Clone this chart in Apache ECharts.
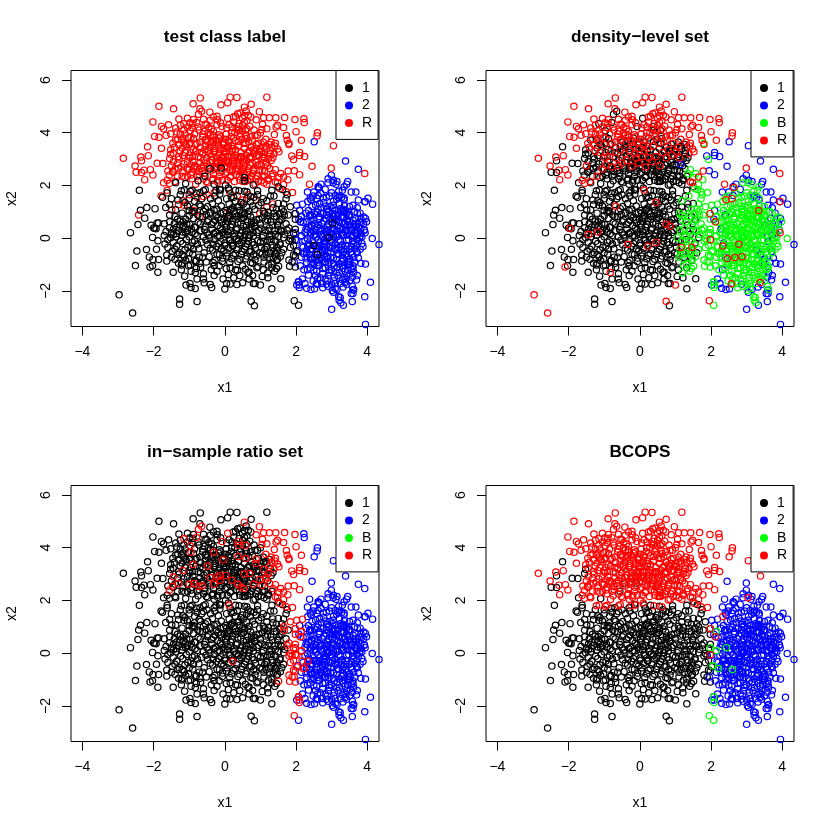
<!DOCTYPE html>
<html><head><meta charset="utf-8"><style>html,body{margin:0;padding:0;background:#fff}#c{width:830px;height:830px}</style>
<script src="https://cdn.jsdelivr.net/npm/echarts@6/dist/echarts.min.js"></script></head>
<body><div id="c"></div><script>
const titles=['test class label','density\u2212level set','in\u2212sample ratio set','BCOPS'];
const legends=[['1','2','R'],['1','2','B','R'],['1','2','B','R'],['1','2','B','R']];
const colors={'1':'#000000','2':'#0000ff','B':'#00ff00','R':'#ff0000'};
const drawOrder=[['2','R','1'],['1','2','B','R'],['1','2','B','R'],['1','2','B','R']];
// flat x1,x2 pairs; group name = label in panels 1..4
const k_1111=[-2.4,1.82,-2.37,1.06,-2.19,1.16,-1.96,1.12,-2.25,.76,-2.44,.52,-2.65,.21,-2.07,.49,-1.9,.58,-1.86,.58,-2,.39,-1.93,.36,-2.03,.03,-1.88,-.1,-1.66,1.16,-2.47,-.49,-2.2,-.43,-1.92,-.42,-2.51,-1.04,-2.12,-.71,-2.02,-.81,-1.86,-.81,-2.03,-1.05,-1.88,-1.29,-1.63,-.64,-1.63,-.87,-1.45,-1.29,-1.13,-1.44,-1.09,-1.78,-.98,-1.72,-.95,-1.87,-.83,-1.91,-.58,-1.69,-.41,-1.76,-.37,-1.87,0,-1.93,.05,-1.72,.15,-1.74,.34,-1.76,.5,-1.69,.8,-1.72,.85,-1.72,1.32,-1.92,1.57,-1.54,1.21,-1.5,-1.27,-2.31,-1.27,-2.51,-.78,-2.4,.83,-2.56,
-1.7,.1,-1.65,.25,-1.6,-.05,-1.55,.4,-1.5,.2,-1.45,-.15,-1.42,.55,-1.38,.05,-1.35,-.3,-1.3,.3,-1.28,-.55,-1.25,.65,-1.2,.12,-1.18,-.2,-1.15,.45,-1.12,-.45,-1.1,.72,-1.08,-.05,-1.05,.3,-1.02,-.78,-1,.05,-.98,.52,-.95,-.3,-.92,.22,-.9,-.6,-.88,.75,-.85,-.1,-.82,.4,-.8,-.85,-.78,.1,-.75,.6,-.73,-.4,-.7,.28,-.68,-1.1,-.65,-.15,-.63,.82,-.6,.05,-.58,-.55,-.55,.45,-.52,-.9,-.5,.2,-.48,-.25,-.46,.7,-.44,-.7,-.42,.02,-.4,.95,-.38,-1.2,-.36,.35,-.34,-.45,-.32,.6,-.3,-.05,-.28,-.85,-.26,.22,-.24,.85,-.22,-.6,-.2,.48,-.18,-.2,-.16,-1.05,-.14,.08,-.12,.7,-.1,-.4,-.08,.32,-.06,-.75,-.04,.98,-.02,.15,0,-.28,.02,.55,.04,-1.15,.06,-.55,.08,.25,.1,.8,.12,-.05,.14,-.92,.16,.42,.18,1.1,.2,-.18,.22,.65,.24,-.65,.26,.05,.28,.92,.3,-1.2,.32,.32,.34,-.42,.36,.58,.38,-.08,.4,1.2,.42,-.8,.44,.2,.46,.75,.48,-.5,.5,-1.05,.52,.45,.54,.02,.56,.95,.58,-.32,.6,.3,.62,-.68,.64,.62,.66,-.12,.68,-1.28,.7,.12,.72,.82,.74,-.5,.76,.38,.78,-.95,.8,.08,.82,-.25,.85,.6,.88,-.68,.9,.22,.93,-1.08,.96,.72,1,-.15,1.02,.38,1.05,-.6,1.08,.1,1.1,-.9,1.14,.65,1.18,-.3,1.22,.28,1.25,-.72,1.3,-.05,1.34,.5,1.38,-.5,1.42,.15,1.45,-.85,1.5,.32,1.55,-.18,1.6,-.55,1.65,.02,
-1.55,.62,-1.4,.82,-1.2,.95,-1,1.05,-.85,1.15,-.72,1.28,-.6,1.02,-.48,1.2,-.35,1.32,-.22,1.1,-.1,1.22,.02,1.05,.12,1.3,.22,1.15,.3,1.4,.42,1.05,.52,1.3,.62,1.18,.72,1.38,.84,1.1,.95,1.25,1.08,1.02,1.22,.98,1.35,1.15,1.45,.82,1.55,.7,-1.75,1.55,-1.62,1.72,-1.5,1.5,-1.32,1.45,-1.12,1.35,-1,1.5,-.85,1.4,-.4,1.5,-.18,1.42,.05,1.5,.25,1.55,.62,1.5,.82,1.55,1.08,1.5,1.28,1.6,1.5,1.32,-.42,2.63,-.1,2.66,-.56,2.35,-1.1,2.07,-.95,-1.25,-.6,-1.35,-.3,-1.42,.1,-1.38,.42,-1.42,.65,-1.3,.9,-1.12,1.08,-1.2,1.32,-1.12,-.82,-.88,-1.1,-.85,-1.32,-.62,-1.5,-.72,-1.7,.55,-1.55,.88,-.05,-1.55,.25,-1.5,.68,-1.55,-1.68,-.22,-1.22,-1.02,-.7,1.72,-.15,1.85,.3,1.82,.92,1.8,1.32,1.82,1.5,1.95,.55,1.78];
const k_core=[-.85,.42,-.77,-.22,-.69,.55,-.62,-.72,-.57,.33,-.53,-.08,-.49,.62,-.45,.12,-.41,-.38,-.37,.52,-.33,-.92,-.31,.18,-.27,.68,-.23,-.32,-.21,.08,-.19,.78,-.15,-.62,-.13,.38,-.11,-.12,-.09,.58,-.07,-.88,-.05,.22,-.03,-.48,-.01,.72,.01,-.18,.03,.42,.05,-.68,.07,.12,.09,.62,.11,-.38,.13,.88,.15,-.08,.17,.28,.19,-.78,.21,.52,.23,-.28,.25,1.02,.27,.18,.29,-.58,.31,.72,.33,-.02,.35,.38,.37,-.88,.39,.85,.41,-.22,.43,.08,.45,.58,.47,-.62,.49,.28,.51,-.12,.53,.78,.55,-.42,.57,.15,.59,-.78,.61,.48,.63,-.22,.65,.92,.67,.02,.69,-.52,.71,.35,.73,-.92,.75,.65,.77,-.15,.79,.22,.81,-.62,.83,.45,.86,-.38,.89,.7,.92,-.1,.95,.3,.98,-.55,.15,1.05,.32,.82,.5,.95,.68,1.02,.08,.75,-.12,.95,-.3,1.05,-.52,.9,-.7,-.95,-.3,-1.05,.15,-1.12,.58,-1.18,.85,-.82,-1.2,-.62,-1.4,-.42,-1.1,.38,-1.35,.42,-1,-.55];
const k_wing=[-1.6,-.35,-1.52,.02,-1.48,-.5,-1.44,.35,-1.4,-.8,-1.36,.18,-1.33,.72,-1.3,-.95,-1.26,.5,-1.24,-.12,-1.2,-.95,-1.17,.62,-1.14,-.7,-1.1,.22,-1.07,.55,-1.04,-.35,-1,.85,-.97,-1.02,-.94,.35,-.91,-.15,-.88,-.42,-.86,1,-.83,.18,-.8,-1.15,-.76,.88,-.72,-.72,1,.55,1.03,-.35,1.06,.78,1.09,-.12,-1.55,1.28,-1.38,1.08,-1.25,1.65,-1.05,1.22,-.92,.98,-.8,1.7,-.65,1.5,-.55,1.12,-.42,.98,-.28,1.6,-.14,1.68,.18,1.55,.35,1.18,.55,.88,.72,1.58,.78,1.22,.92,1.65,1.02,1.35,-.6,-1.55,-.22,-1.25,.35,-1.22,.78,-1.42,1.05,-1.45,-.78,-1.55,-1.02,-1.05,-1.22,-1.2];
const k_1B11=[1.12,.95,1.2,.7,1.25,.38,1.3,.12,1.12,-.42,1.2,-.08,1.28,-.58,1.35,-.35,1.42,-.6,1.4,.28,1.48,.5,1.5,.05,1.55,-.25,1.58,.3,1.6,.72,1.65,-.42,1.38,.95,1.55,.95,1.65,1.3,1.72,1.5,1.6,1.12,1.72,.55,1.78,.88,1.32,-.98,1.4,-1.25,1.2,-1.32,1.45,-1.15,1.1,-.72,1.05,.02,1.48,-.8,1.68,.15,1.62,1.85,1.75,1.65,1.13,.3,1.16,-.62,1.19,.85,1.23,-1.02,1.26,.05,1.29,.62,1.33,-.25,1.36,-.75,1.39,.82,1.43,-.12,1.47,-.48,1.52,.62,1.56,-.7,1.6,.25,1.18,1.42,1.38,1.6,1.45,1.1];
const k_1BR1=[1.65,1,1.67,.87,1.84,1.19,1.98,.93,1.98,.72,1.75,.3,1.8,.39,1.98,.34,1.93,.18,1.84,-.01,1.8,-.1,1.89,-.1,1.93,-.27,1.84,-.35,2.02,-.52,1.93,-.64,1.8,-.83,1.89,-.9,1.98,-.68,1.82,-1.06,1.98,-1.09,1.51,-1.06];
const k_1R11=[-2.97,-2.15,-2.59,-2.84,-2.1,-1.09,-.83,-1.3,1,-1.78,.74,-2.39,-1.97,.38,-1.44,.14,-1.18,.23,-.33,-.23,.46,-.16,.74,.53,.85,.45,.45,1.35,-.68,1.21,1.16,-.35,1.46,-.34];
const k_1RR1=[.22,-.31,.12,1.83];
const k_1RRB=[1.95,-2.37];
const k_1B2B=[2.07,-2.54,2.6,-.62];
const k_1B22=[2.93,.03,3.03,.57,2.5,-.28];
const k_111R=[-1.22,1.8,-1.14,1.83,-.97,1.78,-.92,1.82,-.6,1.8,-.55,1.84,-.25,1.8,-.12,1.83,.1,1.9,.4,1.8,.62,1.76,-1.38,2.1,-.75,2.18,-.3,2.05,.02,2.02,.55,2.3,.55,2.18,.8,2.02];
const r_RR1R=[-2.85,3.03,-2.52,2.74,-2.27,2.58,-2.25,2.22,-2.15,3.13,-2.09,2.6,-2.02,2.4,-2.02,4.41,-1.97,3.86,-1.85,5,-1.85,3.83,-1.78,4.24,-1.72,4.15,-1.78,3.41,-1.44,4.91,-.89,5.1,-.69,5.32,-.7,4.91,-.11,5.06,.08,5.14,.15,5.35,.34,5.34,.74,5.08,1.18,5.35,-2.36,3.08,-1.29,4.52,-1.05,4.55,-1.25,4.28,-1.38,4.18,-1.35,4.03,-1.52,3.96,-1.65,3.9,-.6,4.51,-.41,4.47,-.32,4.6,-.21,4.49,.24,4.6,.36,4.72,.43,4.75,.66,4.66,.73,4.6,-1.46,3.6,-1.42,3.45,-1.3,3.55,-1.12,3.95,-1.05,4.22,-.92,4.2,-.85,3.95,-.58,4.05,-.45,4.2,-.22,4.3,.05,4.18,.2,4.22,.28,4,.5,4.28,.62,4.15,.72,3.85,-1.5,2.75,-1.62,2.2,-1.55,2.08,-1.4,2.15,-1.12,3.25,-.98,3.05,-.62,3.95,-.55,3.72,-.4,3.92,-.15,3.92,.02,3.75,.18,3.85,.45,3.95,.5,4.55,.55,4.65,.6,4.82,.3,4.62,-.5,4.3,-.75,4.22,-1.02,3.82,-1.15,3.65,-.78,3.6,-.2,3.65,.1,3.52,-.32,4.05,-1.58,4.3,-1.25,3.95,-1.15,4.1,-.98,4.38,-.88,4.5,-.72,4.1,-.55,4.32,-.38,4.15,-.12,4.38,.12,4.3,.25,4.4,.4,4.35,.55,4.4,.82,4.1,.92,3.9,.62,4.45,-.42,4.78,-.22,4.62];
const r_inner=[-1.2,2.35,-1.05,2.62,-.95,2.78,-.9,3.1,-.82,3.3,-.78,2.7,-.7,3.65,-.68,3.05,-.62,3.85,-.6,2.75,-.56,3.35,-.52,3.75,-.5,2.85,-.46,4,-.42,3.2,-.38,3.62,-.36,2.95,-.33,3.9,-.28,3.32,-.25,3.72,-.22,2.72,-.18,3.5,-.15,3.2,-.12,3.85,-.1,3.05,-.06,3.6,-.03,2.85,0,3.4,.04,3.95,.07,3.1,.1,3.7,.13,3.3,.16,2.7,.19,4,.22,3.4,.25,3.05,.29,3.7,.32,4.15,.35,2.9,.39,3.5,.42,3.85,.46,3.1,.49,4.1,.53,3.6,.56,2.75,.6,3.9,.64,3.25,.67,3.65,.7,4.25,.74,3.05,.77,3.7,.8,3.35,.85,3.9,.9,3.15,.95,3.6,1,4,1.03,3.3,1.08,3.45,1.12,3.05,-1,3.55,-1.25,3.3,-1.32,3.75,-1.18,3.8,-.9,4.35];
const r_R111=[-2.34,2.49,-2.49,2.5,-2.34,2.94,-2.17,3.47,-1.9,2.84,-1.74,2.83,-1.72,2.1,-1.79,1.6,-1.62,1.82,-1.49,1.07,-2.42,.88,-1.52,3.18,-1.55,3.02,-1.3,1.28,-1.15,1.25,-1,1.65,-.88,1.05,-.78,1.55,-.7,.82,-.5,1.65,-.3,1.72,.15,1.7,.35,1.62,.5,1.45,.65,1.65,.88,1.45,.98,.95,1.18,1.18,1.35,1.3,-1.18,1.42,-.6,1.58,.05,.95];
const r_R11R=[-1.45,3.22,-1.3,3.1,-1.2,3.42,-1.08,3.5,-1.05,2.9,-.95,3.25,-.9,2.92,-.82,3.55,-.75,3.1,-.7,2.85,-.68,3.45,-.62,3.2,-.58,2.45,-.55,3.5,-.5,3.05,-.48,3.65,-.45,2.7,-.42,3.45,-.38,3.1,-.35,3.7,-.32,2.45,-.3,3.25,-.28,3.55,-.25,2.85,-.22,3.05,-.18,3.8,-.15,2.35,-.12,3.35,-.08,2.55,-.05,3.1,-.02,3.65,0,2.75,.03,3.25,.05,2.5,.08,3.42,.1,2.85,.12,3.65,.15,2.3,.18,3.15,.2,3.5,.22,2.6,.25,3.8,.28,2.95,.3,3.35,.32,2.42,.35,3.05,.38,3.5,.4,2.75,.42,2.2,.45,3.25,.48,3.75,.5,2.9,.52,2.62,.55,3.4,.58,2.15,.6,3.15,.62,3.78,.65,2.5,.68,3.3,.7,2.78,.72,2.25,.75,3.45,.78,2.45,.82,3.2,.85,2.05,.88,2.88,.92,2.35,.95,3.15,.98,2.6,1,3.4,1.02,2.18,1.05,3.05,1.08,3.65,1.12,2.35,1.15,3.48,1.18,2.05,-.92,2.25,-1.12,2.3,-1.18,2.55,-.95,2.4,-.82,2.05,-.72,2.42,-.6,2.25,-.48,2.1,-.35,2.2,-.2,2.12,1.22,2.25,-1.32,2.85,-1.22,2.7,1.25,3.55,
-.85,2.75,-.78,2.35,-.7,3.25,-.65,2.65,-.58,2.95,-.52,2.15,-.46,3.35,-.4,2.55,-.36,2.95,-.33,2.25,-.27,3.4,-.23,2.65,-.2,2.2,-.17,3.15,-.14,2.5,-.1,2.9,-.07,2.2,-.03,3.3,.01,2.45,.04,2.9,.07,2.2,.11,3.1,.14,2.6,.17,2.35,.21,3.3,.24,2.85,.27,2.15,.31,3.15,.34,2.55,.37,2.85,.41,2.35,.44,3.05,.47,2.6,.51,2.15,.54,2.85,.57,2.4,.61,2.95,.64,2.2,.67,2.65,.71,3.1,.74,2.35,.77,2.85,.81,2.55,.84,3.3,.87,2.25,.91,2.75,.94,2.15,.97,3.3,
-1.6,2.55,-1.52,3.35,-1.45,2.5,-1.38,3.72,-1.33,2.35,-1.28,3,-1.22,3.72,-1.15,2.82,-1.1,3.55,-1.05,2.35,-1,3.15,-.97,3.62,-.93,2.5,-.88,3.78,-1.4,2.62,1.02,2.75,1.08,3.1,1.12,2.55,1.18,3.4,1.2,2.75,1.22,2.2,1.28,3.2,1.3,2.95,1.35,3.05,1.1,2.1,1.05,2.35,1.32,2.35];
const r_R1RR=[-.65,4.81,-.74,4.7,-.79,4.39,-1.15,4.34,-.97,4.07,-.95,3.83,-.31,3.83,-.08,4.24,.08,4.55,.38,4.24,.38,4.09,.58,4.09,-.05,3.54,.38,3.67,.59,3.59,-.89,3.36,-1.18,3.14,-.48,3.3,-1.45,2.9,-1.47,2.54,-1.56,2.39,-1.3,2.64,-1,2.61,-.87,2.64,-.73,2.53,-.63,2.56,-.41,2.87,-.3,2.61,-.21,2.9,-.13,2.95,-.13,2.77,.03,2.95,.2,2.77,.36,2.61,.45,2.51,.53,2.45,.55,3,.7,3.02,.8,2.61,.97,2.79,1.05,2.58,1.26,2.64,1.16,2.89,1.23,3.02,1.09,3.18,1.28,3.33,1.32,3.46,.88,3.56,.88,3.4];
const r_RRRR=[.55,4.97,.97,4.8,1.09,4.57,1.25,4.57,1.43,4.57,1.68,4.58,1.97,4.5,.88,4.49,1.06,4.32,1.04,4.12,1.18,4.15,1.39,3.93,1.44,4.22,1.48,4.28,1.65,4.2,1.73,3.89,2,4.04,2.15,3.71,1.75,3.71,1.8,3.55,1.4,3.5,1.48,3.38,1.52,3.28,1.38,3.2,1.42,3.6,1.65,2.32,1.78,2.55,1.42,2.13,1.48,2.11,1.3,3.65,1.15,3.75];
const r_RBRR=[1.77,2.22,1.65,2.03,1.54,1.88,1.72,1.76,1.9,1.73,1.57,2.45,1.42,2.6,1.35,2.45,1.8,3.6,1.93,2.98,1.52,2.3];
const r_R2RR=[1.88,3.12,2.1,3.25,2.1,3.14,1.95,2.56,2.1,2.41,1.15,2.8,2.24,3.1];
const r_RR2R=[2.22,4.53,2.23,4.39,2.6,4,2.59,3.88];
const r_R22R=[3.05,3.51];
const r_R222=[2.45,2.73];
const r_RR22=[2.99,2.66,3.93,2.45,2.38,2.05];
const b_2B22=[2.4,1.52,2.55,1.25,2.7,1.7,2.85,1.55,3,1.72,3.2,1.78,3.35,1.52,2.35,1.05,2.45,.85,2.6,.98,2.72,1.15,2.85,.9,2.95,1.2,3.05,.82,3.12,1.05,3.22,1.3,3.3,.78,3.42,.95,3.5,1.2,2.3,.62,2.42,.4,2.5,.7,2.62,.52,2.7,.28,2.78,.65,2.88,.42,2.95,.72,3,.18,3.08,.5,3.15,.28,3.22,.62,3.3,.35,3.38,.55,3.45,.12,3.52,.42,3.6,.68,3.68,.18,3.75,.42,2.25,.22,2.32,-.02,2.4,.12,2.48,-.18,2.55,.15,2.62,-.05,2.7,-.28,2.75,.05,2.82,-.12,2.88,.12,2.92,-.35,3,-.05,3.05,.05,3.1,-.22,3.18,.08,3.25,-.12,3.32,.15,3.4,-.3,3.48,-.05,3.55,.1,3.62,-.22,3.7,-.02,3.78,.02,3.85,-.2,2.2,-.35,2.3,-.45,2.38,-.62,2.45,-.42,2.52,-.72,2.6,-.4,2.68,-.55,2.72,-.85,2.8,-.42,2.85,-.68,2.92,-.92,2.98,-.55,3.05,-.75,3.12,-.45,3.2,-.62,3.28,-.88,3.35,-.5,3.42,-.72,3.5,-.42,3.58,-.6,3.65,-.4,3.72,-.55,2.3,-.92,2.4,-1.12,2.5,-.95,2.58,-1.25,2.65,-1.05,2.75,-1.35,2.82,-1.12,2.9,-1.42,3,-1.2,3.08,-1.48,3.15,-1.1,3.22,-1.3,3.3,-1.05,3.38,-1.25,3.45,-1,3.52,-1.35,3.6,-1.15,2.35,-1.4,2.48,-1.62,2.6,-1.55,2.72,-1.72,2.88,-1.62,3,-1.75,3.1,-1.92,3.25,-1.72,3.35,-1.55,3.5,-1.62,3.62,-1.95,3.58,-1.82,3.02,-1.98,3.2,-2.22,3.24,-2.25,3.21,-2.35,3.26,-2.45,2.12,-1.05,2.15,-.72,2.22,-1.2,2.55,.32,2.65,.72,2.78,.18,2.85,.25,2.92,.55,3.02,.38,3.1,.72,3.18,.45,3.28,.2,3.35,.8,3.4,.3,3.45,.65,2.58,-.28,2.68,.38,2.8,-.2,2.9,.3,3,-.38,3.12,.15,3.2,-.35,3.3,-.25,3.42,-.08,3.55,.3,2.45,-.82,2.62,-.82,2.78,-.62,2.9,-.78,3.02,-.28,3.15,-.82,3.3,-.62,2.42,.68,2.52,.55,2.62,1.1,2.78,1.35,2.92,1.02,3.05,1.4,3.18,.9,3.32,1.1,3.48,.85,3.65,1,3.82,.75,3.9,.8,3.98,.62,4.14,-.01,3.92,.32,3.8,.08,2.65,1.9,2.9,2.1,3.12,2.05,3.3,1.82,3.35,1.95,3.72,.95,2.48,1.6,3.1,1.62];
const b_core=[2.52,.92,2.56,.05,2.58,-.52,2.6,.42,2.63,-1.02,2.65,.82,2.67,-.18,2.69,.12,2.71,-.72,2.73,.55,2.75,-1.15,2.77,.95,2.79,-.32,2.81,.35,2.83,-.92,2.85,.75,2.87,-.02,2.89,-.52,2.91,.85,2.93,-1.22,2.95,.22,2.97,-.72,2.99,.62,3.01,-.15,3.03,1.12,3.05,-.95,3.07,.32,3.09,-.38,3.11,.88,3.13,-1.32,3.15,.05,3.17,-.58,3.19,.65,3.21,-.98,3.23,.38,3.25,1.02,3.27,-.3,3.29,.58,3.31,-.75,3.33,.12,3.35,.98,3.37,-1.02,3.39,.42,3.41,-.42,3.43,.72,2.48,.25,2.5,-1.22,2.54,-.32,2.6,-.92,2.7,.95,2.74,-.48,2.8,-.88,2.86,1.1,2.9,.02,2.96,-.12,3.02,.95,3.08,-1.05,3.14,.68,3.2,-.08,3.26,.82,3.32,-1.15,3.38,.25,3.44,-.88,3.5,.62,3.56,-.32,3.62,.42,2.44,.48,2.38,-.28,2.32,.32,2.28,-.75,2.66,1.32,2.76,1.52,2.84,1.22,2.94,1.6,3.04,1.25,3.14,1.48,3.24,1.12,3.36,1.25,3.46,1.02,2.55,-1.42,2.68,-1.5,2.82,-1.55,2.94,-1.3,3.06,-1.62,3.18,-1.42,3.3,-1.58,3.42,-1.42];
const b_more=[2.2,.6,2.25,-.1,2.28,.95,2.3,-.55,2.35,.42,2.38,.85,2.4,-.42,2.42,-.95,2.45,1.2,2.5,.1,3.5,.9,3.55,-.52,3.58,.35,3.62,-.72,3.65,.22,3.68,.55,3.7,-.28,3.72,.3,3.75,-.12,3.78,.6,3.8,-.42,3.82,.38,3.85,.05,3.88,-.32,3.52,-.88,3.6,-1.05,3.45,-1.2,3.55,-1.18,3.4,-1.55,2.6,-1.75,2.75,-1.88,2.9,-1.82,3.1,-1.72];
const b_2222=[3.75,2.61,2.9,2.25,2.99,2.39,3.05,2.2,3.15,2.15,3.45,2.15,3.42,2.05,2.62,1.95,2.7,2.05,2.82,1.85,4.15,1.29,4.02,1.51,3.93,1.38,3.75,1.45,3.55,1.75,3.68,1.75,3.35,1.45,3.6,1.25,3.72,1.15,3.8,.95,3.95,.75,3.9,.55,3.92,.3,3.85,.6,3.7,.45,3.68,.75,3.82,.2,3.72,.12,3.6,-.12,3.7,-.5,3.75,-.75,3.82,-.95,3.95,-.98,3.65,-.9,3.5,-1,3.62,-1.3,3.72,-1.42,3.7,-1.58,3.58,-1.48,4.33,-.24,4.09,-1.67,3.93,-2.22,3.95,-3.27,3.58,-2.4,3.33,-2.54,3,-2.7,3.55,-2.1,3.6,-2.1,3.6,-1.97,3.42,-1.75,3.32,-1.85,2.3,-1.9,2.52,-1.92,2.42,-1.95,2.25,-1.72,2.02,-1.78,2.85,-1.75,3.15,-1.95,3.05,-2.05,2.18,-1.55,2.08,.72,2.1,1.05,2.32,1.75,2.5,1.75,2.62,1.62,3.28,1.55,3.22,1.6,3.5,.5,3.58,.05,3.4,-.62,3.5,-.78,3.28,-.45,3.18,1.55,2.4,.9,2.28,.35,2.35,-.18,2.4,-.72,2.32,-1.2];
const b_2BR2=[2.02,1.25,2.18,1.29,2.15,.81,2.13,.62,2.15,.08,2.02,-.08,2.17,-.3,2.23,-.58,2.07,-1.65,2.09,-1.78,1.95,-.9];
const b_2B2B=[2.43,.21,2.05,-.48];
const b_2RR2=[2.33,-.3];
const b_2R22=[2.42,1.46,2.59,1.5,2.64,1.92,2.46,-.77,2.67,-.73,2.87,-.7,2.78,-.23,2.57,-1.73,3.38,-1.68,3.34,1.05,3.94,.21,3.94,1.39];
const b_2B2R=[2.33,1.39,3.04,2.1];
const b_222R=[3.39,2.93,2.51,3.66];
const b_2RRR=[1.98,-.06,2.12,.62,1.97,.93];
const b_2BRB=[2.09,-1.87,2.07,-1.65,1.98,.21,2.15,.09,2.21,-.58,2.15,.83];
const xTicks=[-4,-2,0,2,4];
const yTicks=[-2,0,2,4,6];
const groups=[['1111',k_1111],['1111',k_core],['1111',k_wing],['1B11',k_1B11],['1BR1',k_1BR1],['1R11',k_1R11],['1RR1',k_1RR1],['1RRB',k_1RRB],['1B2B',k_1B2B],['1B22',k_1B22],['111R',k_111R],['RR1R',r_RR1R],['RR1R',r_inner],['R111',r_R111],['R11R',r_R11R],['R1RR',r_R1RR],['RRRR',r_RRRR],['RBRR',r_RBRR],['R2RR',r_R2RR],['RR2R',r_RR2R],['R22R',r_R22R],['R222',r_R222],['RR22',r_RR22],['2B22',b_2B22],['2B22',b_core],['2B22',b_more],['2222',b_2222],['2BR2',b_2BR2],['2B2B',b_2B2B],['2RR2',b_2RR2],['2R22',b_2R22],['2B2R',b_2B2R],['222R',b_222R],['2RRR',b_2RRR],['2BRB',b_2BRB]];
const pts=(p,c)=>{const o=[];groups.forEach(([l,a])=>{if(l[p]===c)for(let i=0;i+1<a.length;i+=2)o.push([a[i],a[i+1]])});return o};
const minus=v=>String(v).replace('-','\u2212');
const font='"Liberation Sans",Arial,sans-serif';
const grid=[],xAxis=[],yAxis=[],series=[],title=[],legend=[];
const nameStyle={fontFamily:font,fontSize:14,color:'#000'};
const hiddenLine={show:false,onZero:false};
titles.forEach((t,p)=>{
 const ox=p%2?415:0, oy=p>1?415:0;
 grid.push({left:71+ox,top:70.5+oy,width:308,height:256,show:true,borderColor:'#000',borderWidth:1,backgroundColor:'transparent',outerBoundsMode:'none'});
 title.push({text:t,left:225+ox,top:29+oy,padding:0,textAlign:'center',textStyle:{fontFamily:font,fontSize:17.2,fontWeight:'bold',color:'#000'}});
 xAxis.push({type:'value',gridIndex:p,position:'bottom',min:-4.32,max:4.33,name:'x1',nameLocation:'middle',nameGap:54.5,nameTextStyle:nameStyle,axisLine:hiddenLine,splitLine:{show:false},axisTick:{show:true,length:9,customValues:xTicks,lineStyle:{color:'#000',width:1}},axisLabel:{customValues:xTicks,formatter:minus,margin:19,fontFamily:font,fontSize:14,color:'#000',hideOverlap:false}});
 yAxis.push({type:'value',gridIndex:p,position:'left',min:-3.35,max:6.36,name:'x2',nameLocation:'middle',nameRotate:90,nameGap:52.3,nameTextStyle:nameStyle,axisLine:hiddenLine,splitLine:{show:false},axisTick:{show:true,length:9,customValues:yTicks,lineStyle:{color:'#000',width:1}},axisLabel:{customValues:yTicks,rotate:90,formatter:minus,margin:17.5,fontFamily:font,fontSize:14,color:'#000',hideOverlap:false}});
 drawOrder[p].forEach((c,i)=>series.push({type:'scatter',name:c,xAxisIndex:p,yAxisIndex:p,data:pts(p,c),symbol:'circle',symbolSize:6.3,z:2+i,silent:true,animation:false,itemStyle:{color:'transparent',borderColor:colors[c],borderWidth:1.2,opacity:1}}));
 legend.push({show:true,left:336+ox,top:70.5+oy,orient:'vertical',selectedMode:false,backgroundColor:'#fff',borderColor:'#000',borderWidth:1,borderRadius:0,padding:[10.4,6,9.5,9],itemWidth:16,itemHeight:8,itemGap:3.5,icon:'circle',textStyle:{fontFamily:font,fontSize:14,color:'#000'},z:20,data:legends[p].map(n=>({name:n,icon:'circle',itemStyle:{color:colors[n],borderWidth:0,opacity:1}}))});
});
const chart=echarts.init(document.getElementById('c'),null,{renderer:'canvas'});
chart.setOption({animation:false,backgroundColor:'#fff',grid,xAxis,yAxis,series,title,legend});
</script></body></html>
